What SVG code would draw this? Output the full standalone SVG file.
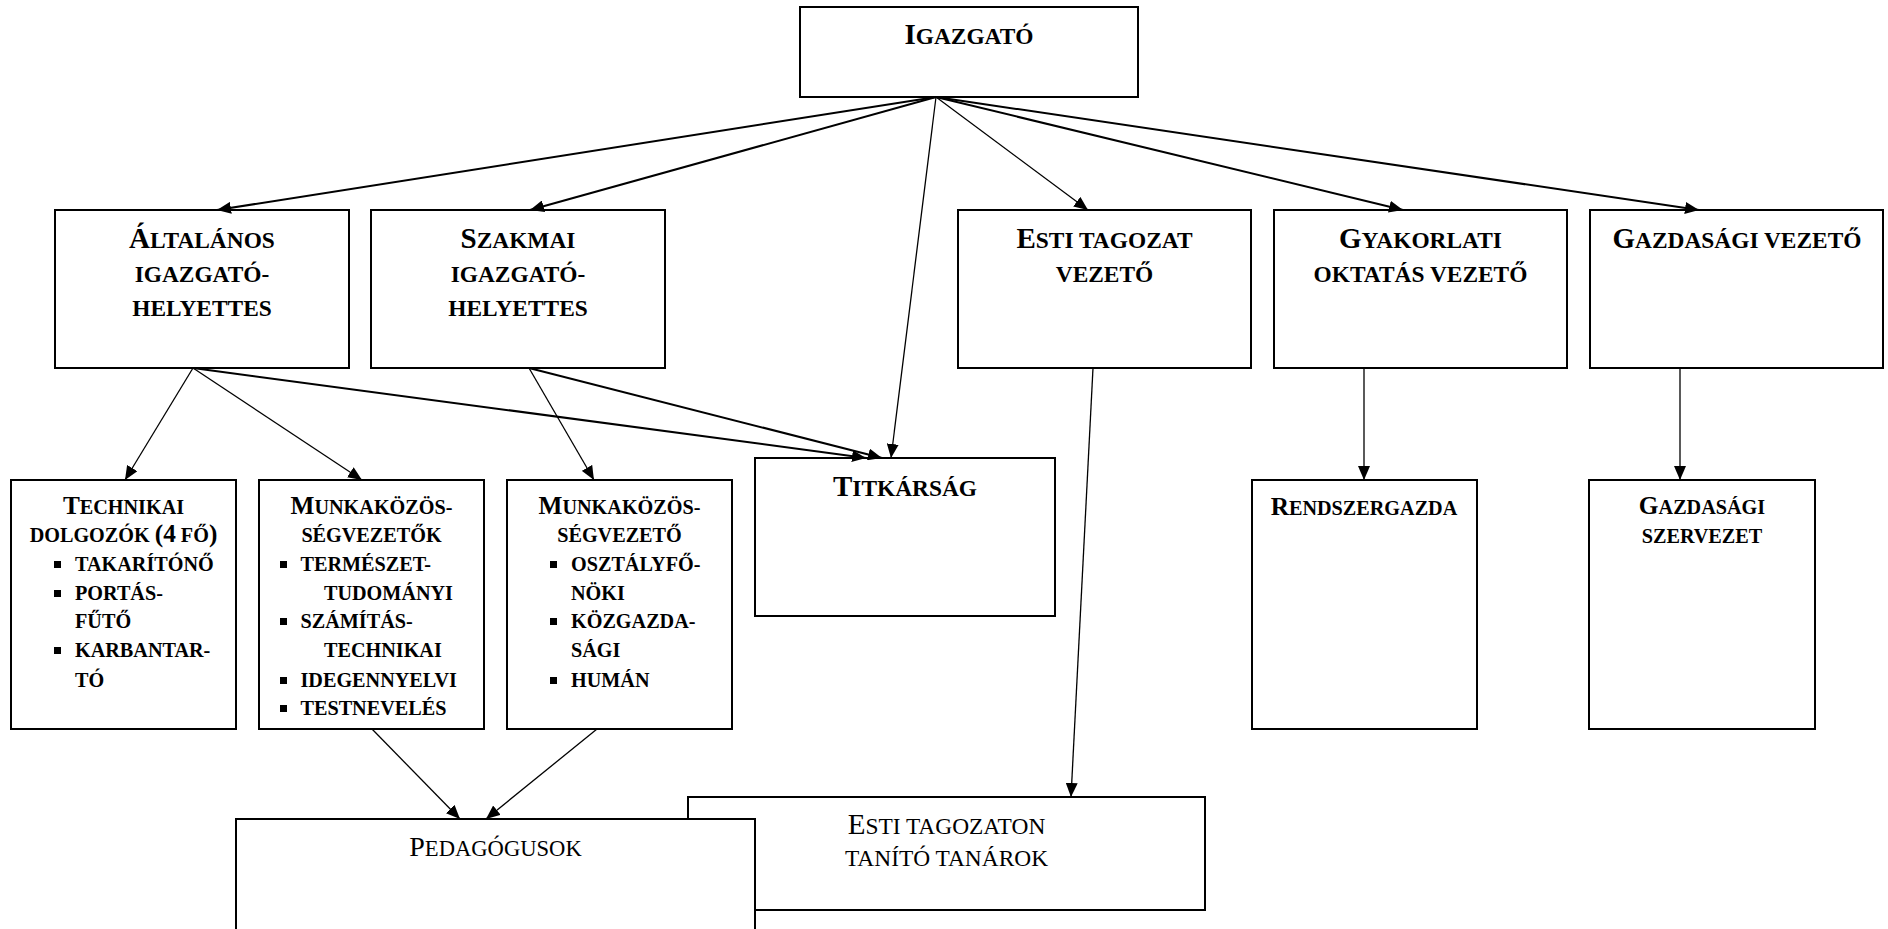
<svg xmlns="http://www.w3.org/2000/svg" width="1888" height="929" viewBox="0 0 1888 929">
<style>
  .box{fill:#fff;stroke:#000;stroke-width:2}
  text{font-family:"Liberation Serif","Times New Roman",serif;fill:#000}
  .bd{font-weight:bold}
  .c{text-anchor:middle}
  .B{font-size:29px}
  .s{font-size:23.4px}
  .B3{font-size:25.3px}
  .s3{font-size:20.2px}
  .thick{stroke:#000;stroke-width:2;fill:none;marker-end:url(#ah)}
  .thin{stroke:#000;stroke-width:1.3;fill:none;marker-end:url(#ah)}
  .bul{fill:#000}
</style>
<defs>
  <marker id="ah" viewBox="0 0 14 12" refX="14" refY="6" markerWidth="14" markerHeight="12" markerUnits="userSpaceOnUse" orient="auto">
    <path d="M0,0 L14,6 L0,12 z" fill="#000"/>
  </marker>
</defs>
<rect width="1888" height="929" fill="#fff"/>

<g id="igazgato">
  <rect class="box" x="800" y="7" width="338" height="90"/>
  <text class="bd c" x="969" y="44"><tspan class="B">I</tspan><tspan class="s">GAZGATÓ</tspan></text>
</g>

<g id="altalanos">
  <rect class="box" x="55" y="210" width="294" height="158"/>
  <text class="bd c" x="202" y="248"><tspan class="B">Á</tspan><tspan class="s">LTALÁNOS</tspan></text>
  <text class="bd c s" x="202" y="282">IGAZGATÓ-</text>
  <text class="bd c s" x="202" y="316">HELYETTES</text>
</g>

<g id="szakmai">
  <rect class="box" x="371" y="210" width="294" height="158"/>
  <text class="bd c" x="518" y="248"><tspan class="B">S</tspan><tspan class="s">ZAKMAI</tspan></text>
  <text class="bd c s" x="518" y="282">IGAZGATÓ-</text>
  <text class="bd c s" x="518" y="316">HELYETTES</text>
</g>

<g id="esti-vezeto">
  <rect class="box" x="958" y="210" width="293" height="158"/>
  <text class="bd c" x="1104.5" y="248"><tspan class="B">E</tspan><tspan class="s">STI TAGOZAT</tspan></text>
  <text class="bd c s" x="1104.5" y="282">VEZETŐ</text>
</g>

<g id="gyakorlati">
  <rect class="box" x="1274" y="210" width="293" height="158"/>
  <text class="bd c" x="1420.5" y="248"><tspan class="B">G</tspan><tspan class="s">YAKORLATI</tspan></text>
  <text class="bd c s" x="1420.5" y="282">OKTATÁS VEZETŐ</text>
</g>

<g id="gazdasagi-vezeto">
  <rect class="box" x="1590" y="210" width="293" height="158"/>
  <text class="bd c" x="1737" y="248"><tspan class="B">G</tspan><tspan class="s">AZDASÁGI VEZETŐ</tspan></text>
</g>

<g id="technikai">
  <rect class="box" x="11" y="480" width="225" height="249"/>
  <text class="bd c" x="123.5" y="514"><tspan class="B3">T</tspan><tspan class="s3">ECHNIKAI</tspan></text>
  <text class="bd c" x="123.5" y="542"><tspan class="s3">DOLGOZÓK </tspan><tspan class="B3">(4</tspan><tspan class="s3"> FŐ</tspan><tspan class="B3">)</tspan></text>
  <rect class="bul" x="54" y="561" width="7" height="7"/>
  <text class="bd s3" x="75" y="571">TAKARÍTÓNŐ</text>
  <rect class="bul" x="54" y="590" width="7" height="7"/>
  <text class="bd s3" x="75" y="600">PORTÁS-</text>
  <text class="bd s3" x="75" y="628">FŰTŐ</text>
  <rect class="bul" x="54" y="647" width="7" height="7"/>
  <text class="bd s3" x="75" y="657">KARBANTAR-</text>
  <text class="bd s3" x="75" y="687">TÓ</text>
</g>

<g id="munkakozossegvezetok">
  <rect class="box" x="259" y="480" width="225" height="249"/>
  <text class="bd c" x="371.5" y="514"><tspan class="B3">M</tspan><tspan class="s3">UNKAKÖZÖS-</tspan></text>
  <text class="bd c s3" x="371.5" y="542">SÉGVEZETŐK</text>
  <rect class="bul" x="280" y="561" width="7" height="7"/>
  <text class="bd s3" x="300.5" y="571">TERMÉSZET-</text>
  <text class="bd s3" x="324" y="600">TUDOMÁNYI</text>
  <rect class="bul" x="280" y="618" width="7" height="7"/>
  <text class="bd s3" x="300.5" y="628">SZÁMÍTÁS-</text>
  <text class="bd s3" x="324" y="657">TECHNIKAI</text>
  <rect class="bul" x="280" y="677" width="7" height="7"/>
  <text class="bd s3" x="300.5" y="687">IDEGENNYELVI</text>
  <rect class="bul" x="280" y="705" width="7" height="7"/>
  <text class="bd s3" x="300.5" y="715">TESTNEVELÉS</text>
</g>

<g id="munkakozossegvezeto">
  <rect class="box" x="507" y="480" width="225" height="249"/>
  <text class="bd c" x="619.5" y="514"><tspan class="B3">M</tspan><tspan class="s3">UNKAKÖZÖS-</tspan></text>
  <text class="bd c s3" x="619.5" y="542">SÉGVEZETŐ</text>
  <rect class="bul" x="550" y="561" width="7" height="7"/>
  <text class="bd s3" x="571" y="571">OSZTÁLYFŐ-</text>
  <text class="bd s3" x="571" y="600">NÖKI</text>
  <rect class="bul" x="550" y="618" width="7" height="7"/>
  <text class="bd s3" x="571" y="628">KÖZGAZDA-</text>
  <text class="bd s3" x="571" y="657">SÁGI</text>
  <rect class="bul" x="550" y="677" width="7" height="7"/>
  <text class="bd s3" x="571" y="687">HUMÁN</text>
</g>

<g id="titkarsag">
  <rect class="box" x="755" y="458" width="300" height="158"/>
  <text class="bd c" x="905" y="496"><tspan class="B">T</tspan><tspan class="s">ITKÁRSÁG</tspan></text>
</g>

<g id="rendszergazda">
  <rect class="box" x="1252" y="480" width="225" height="249"/>
  <text class="bd c" x="1364" y="515"><tspan class="B3">R</tspan><tspan class="s3">ENDSZERGAZDA</tspan></text>
</g>

<g id="gazdasagi-szervezet">
  <rect class="box" x="1589" y="480" width="226" height="249"/>
  <text class="bd c" x="1702" y="514"><tspan class="B3">G</tspan><tspan class="s3">AZDASÁGI</tspan></text>
  <text class="bd c s3" x="1702" y="543">SZERVEZET</text>
</g>

<g id="esti-tanarok">
  <rect class="box" x="688" y="797" width="517" height="113"/>
  <text class="c" x="946.5" y="834"><tspan class="B">E</tspan><tspan class="s">STI TAGOZATON</tspan></text>
  <text class="c s" x="946.5" y="866">TANÍTÓ TANÁROK</text>
</g>

<g id="pedagogusok">
  <rect class="box" x="236" y="819" width="519" height="130"/>
  <text class="c" x="495.5" y="856"><tspan style="font-size:28px">P</tspan><tspan style="font-size:22.6px">EDAGÓGUSOK</tspan></text>
</g>

<g id="connectors">
  <line class="thick" x1="936" y1="97" x2="217" y2="210"/>
  <line class="thick" x1="936" y1="97" x2="530" y2="210"/>
  <line class="thin" x1="936" y1="97" x2="891" y2="458"/>
  <line class="thin" x1="936" y1="97" x2="1088" y2="210"/>
  <line class="thick" x1="936" y1="97" x2="1403" y2="210"/>
  <line class="thick" x1="936" y1="97" x2="1699" y2="210"/>
  <line class="thin" x1="193" y1="368" x2="125" y2="480"/>
  <line class="thin" x1="193" y1="368" x2="362" y2="480"/>
  <line class="thick" x1="193" y1="368" x2="866" y2="458"/>
  <line class="thin" x1="529" y1="368" x2="594" y2="480"/>
  <line class="thick" x1="529" y1="368" x2="882" y2="458"/>
  <line class="thin" x1="1093" y1="368" x2="1071" y2="797"/>
  <line class="thin" x1="1364" y1="368" x2="1364" y2="480"/>
  <line class="thin" x1="1680" y1="368" x2="1680" y2="480"/>
  <line class="thin" x1="372" y1="729" x2="460" y2="819"/>
  <line class="thin" x1="597" y1="729" x2="486" y2="819"/>
</g>
</svg>
